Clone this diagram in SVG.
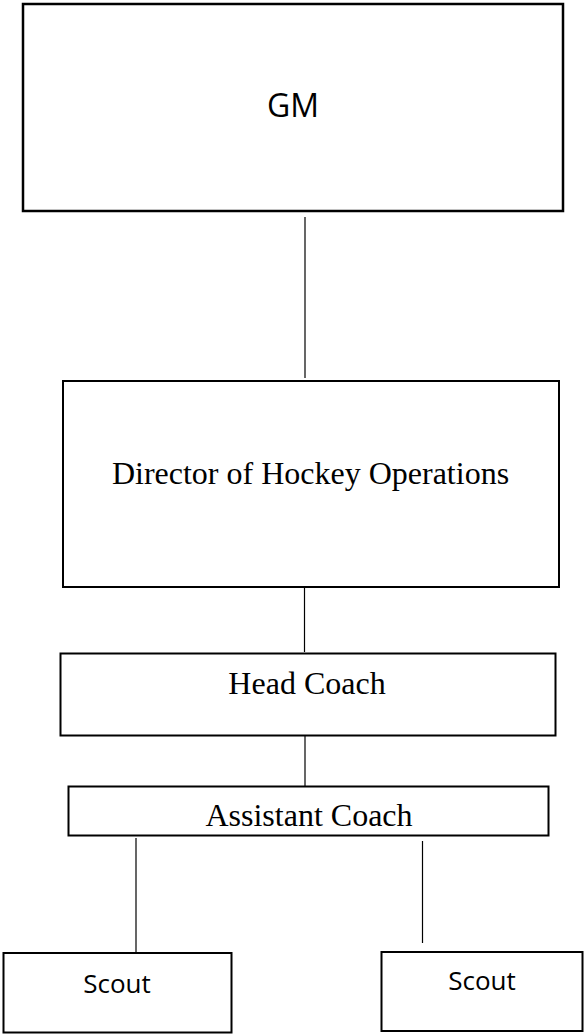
<svg xmlns="http://www.w3.org/2000/svg" width="584" height="1036" viewBox="0 0 584 1036">
<style>
.box{fill:#fff;stroke:#000;stroke-width:2}
.conn line{stroke:#000;stroke-width:1.2}
.sans{font-family:"Open Sans","Noto Sans",sans-serif;fill:#000;text-anchor:middle}
.serif{font-family:"Liberation Serif","Times New Roman",serif;font-size:32px;fill:#000;text-anchor:middle}
</style>
<rect width="584" height="1036" fill="#fff"/>
<g id="connectors" class="conn">
<line x1="305" y1="217" x2="305" y2="378"/>
<line x1="304.5" y1="588" x2="304.5" y2="652"/>
<line x1="305" y1="736" x2="305" y2="786"/>
<line x1="136" y1="838" x2="136" y2="953"/>
<line x1="422.5" y1="841" x2="422.5" y2="943"/>
</g>
<g id="gm">
<rect class="box" x="23" y="4" width="540" height="207" style="stroke-width:2.5"/>
<text class="sans" x="293" y="117" font-size="32">GM</text>
</g>
<g id="director">
<rect class="box" x="63" y="381" width="496" height="206"/>
<text class="serif" x="310.5" y="484">Director of Hockey Operations</text>
</g>
<g id="head-coach">
<rect class="box" x="60.5" y="653.5" width="495" height="82"/>
<text class="serif" x="307" y="694">Head Coach</text>
</g>
<g id="assistant-coach">
<rect class="box" x="68.5" y="786.5" width="480" height="49"/>
<text class="serif" x="309" y="826">Assistant Coach</text>
</g>
<g id="scout-left">
<rect class="box" x="3.5" y="953" width="228" height="79.5"/>
<text class="sans" x="117" y="993" font-size="26">Scout</text>
</g>
<g id="scout-right">
<rect class="box" x="381.5" y="952" width="201" height="79"/>
<text class="sans" x="482" y="990" font-size="26">Scout</text>
</g>
</svg>
